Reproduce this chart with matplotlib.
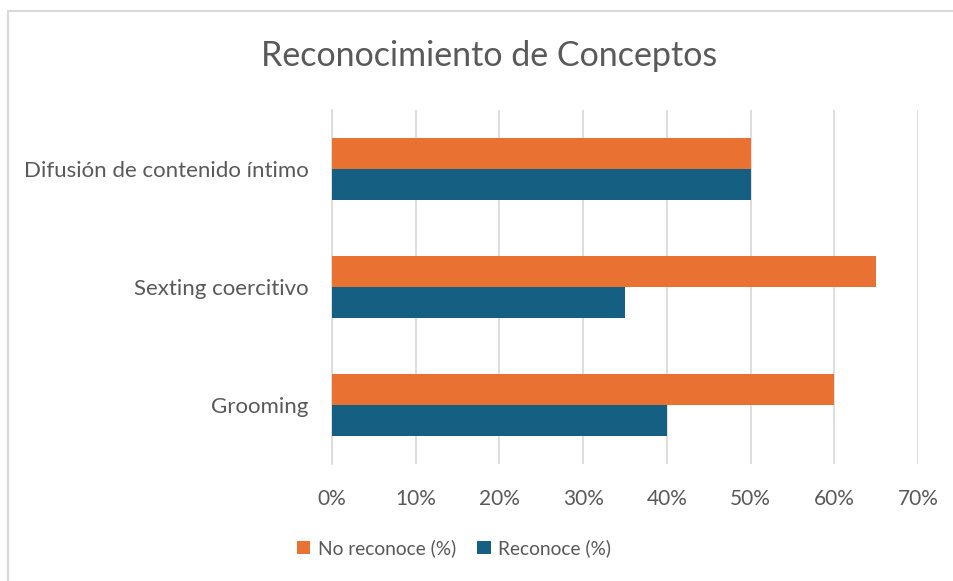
import matplotlib.pyplot as plt
from matplotlib.patches import Rectangle
import numpy as np

categories = ['Grooming', 'Sexting coercitivo', 'Difusión de contenido íntimo']
no_reconoce = [60, 65, 50]
reconoce = [40, 35, 50]
xticks = [0, 10, 20, 30, 40, 50, 60, 70]

ORANGE = '#E97132'
BLUE = '#156082'
TEXT = '#595959'
GRID = '#D9D9D9'

plt.rcParams['font.family'] = ['Lato', 'DejaVu Sans']

fig = plt.figure(figsize=(9.54, 5.81), dpi=100)
ax = fig.add_axes([332 / 954, 1 - 464 / 581, (918 - 332) / 954, (464 - 110) / 581])

y = np.arange(len(categories))
h = 0.263
ax.barh(y + h / 2, no_reconoce, height=h, color=ORANGE, label='No reconoce (%)', zorder=3)
ax.barh(y - h / 2, reconoce, height=h, color=BLUE, label='Reconoce (%)', zorder=3)

ax.set_xlim(0, 70)
ax.set_ylim(-0.5, 2.5)
ax.set_xticks(xticks)
ax.set_xticklabels([f'{t}%' for t in xticks])
ax.set_yticks(y)
ax.set_yticklabels(categories)
ax.tick_params(axis='both', length=0, labelcolor=TEXT)
ax.tick_params(axis='x', pad=18, labelsize=15)
ax.tick_params(axis='y', pad=17, labelsize=16)
ax.grid(axis='x', color=GRID, linewidth=1.2, zorder=0)
for s in ['top', 'right', 'bottom']:
    ax.spines[s].set_visible(False)
ax.spines['left'].set_color(GRID)
ax.spines['left'].set_linewidth(1.2)

fig.text(489 / 954, 1 - 56 / 581, 'Reconocimiento de Conceptos', ha='center', va='center',
         fontsize=24.5, color=TEXT)

leg = fig.legend(loc='center', bbox_to_anchor=(454 / 954, 1 - 548 / 581), ncol=2, frameon=False,
                 fontsize=13.8, handlelength=0.7, handleheight=0.7, handletextpad=0.4,
                 columnspacing=1.1, labelcolor=TEXT)

fig.patches.append(Rectangle((8 / 954, -0.05), 1.0, 1 - 11 / 581 + 0.05, transform=fig.transFigure,
                             fill=False, edgecolor=GRID, linewidth=1.5))

fig.savefig('out.png', dpi=100)
